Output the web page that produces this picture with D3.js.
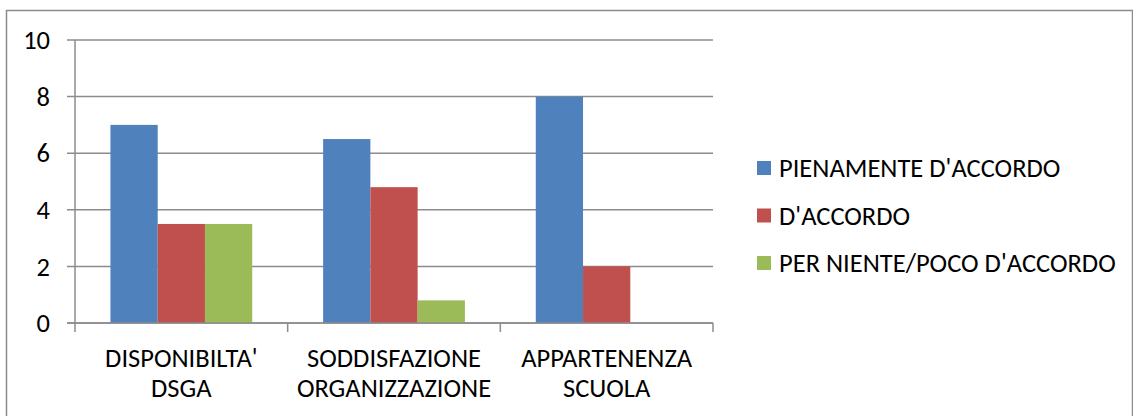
<!DOCTYPE html>
<html>
<head>
<meta charset="utf-8">
<script src="https://cdn.jsdelivr.net/npm/d3@7"></script>
<style>
  body { margin: 0; background: #fff; }
  text { font-family: Carlito, Calibri, "Liberation Sans", sans-serif; fill: #000; }
</style>
</head>
<body>
<div id="chart"></div>
<script>
// data
let categories = [["DISPONIBILTA'", "DSGA"], ["SODDISFAZIONE", "ORGANIZZAZIONE"], ["APPARTENENZA", "SCUOLA"]];
let seriesNames = ["PIENAMENTE D'ACCORDO", "D'ACCORDO", "PER NIENTE/POCO D'ACCORDO"];
let pienamente = [7, 6.5, 8];
let accordo = [3.5, 4.8, 2];
let perNiente = [3.5, 0.8, 0];
let yTicks = [0, 2, 4, 6, 8, 10];
let colors = ["#4F81BD", "#C0504D", "#9BBB59"];

let values = [pienamente, accordo, perNiente];

let W = 1133, H = 416;
let plotLeft = 75, plotRight = 713, plotTop = 40, plotBottom = 323;
let fontSize = "26.5px";

let svg = d3.select("#chart").append("svg")
    .attr("width", W)
    .attr("height", H);

// outer frame
svg.append("rect")
    .attr("x", 6.5).attr("y", 10.5)
    .attr("width", 1126).attr("height", 420)
    .attr("fill", "none")
    .attr("stroke", "#8c8c8c")
    .attr("stroke-width", 1.5);

let y = d3.scaleLinear().domain([0, 10]).range([plotBottom, plotTop]);
let x0 = d3.scaleBand().domain(d3.range(categories.length)).range([plotLeft, plotRight]);
let x1 = d3.scaleBand().domain(d3.range(seriesNames.length))
    .range([x0.bandwidth() / 6, x0.bandwidth() * 5 / 6]);

// gridlines + y ticks
svg.append("g")
    .selectAll("line")
    .data(yTicks)
    .enter().append("line")
    .attr("x1", plotLeft - 8).attr("x2", plotRight)
    .attr("y1", d => y(d)).attr("y2", d => y(d))
    .attr("stroke", "#8c8c8c")
    .attr("stroke-width", 1.5);

svg.append("g")
    .selectAll("text")
    .data(yTicks)
    .enter().append("text")
    .attr("x", 50)
    .attr("y", d => y(d))
    .attr("dy", "0.35em")
    .attr("text-anchor", "end")
    .style("font-size", fontSize)
    .text(d => d);

// bars
let groups = svg.append("g")
    .selectAll("g")
    .data(values)
    .enter().append("g")
    .attr("fill", (d, i) => colors[i]);

groups.each(function (series, s) {
    d3.select(this).selectAll("rect")
        .data(series)
        .enter().append("rect")
        .attr("x", (d, i) => x0(i) + x1(s))
        .attr("width", x1.bandwidth())
        .attr("y", d => y(d))
        .attr("height", d => y(0) - y(d));
});

// axes
svg.append("line")
    .attr("x1", plotLeft).attr("x2", plotLeft)
    .attr("y1", plotTop).attr("y2", plotBottom)
    .attr("stroke", "#8c8c8c").attr("stroke-width", 1.5);

svg.append("line")
    .attr("x1", plotLeft - 8).attr("x2", plotRight)
    .attr("y1", plotBottom).attr("y2", plotBottom)
    .attr("stroke", "#8c8c8c").attr("stroke-width", 1.5);

let catTicks = d3.range(categories.length + 1).map(i => i < categories.length ? x0(i) : plotRight);
svg.append("g")
    .selectAll("line")
    .data(catTicks)
    .enter().append("line")
    .attr("x1", d => d).attr("x2", d => d)
    .attr("y1", plotBottom).attr("y2", plotBottom + 9)
    .attr("stroke", "#8c8c8c").attr("stroke-width", 1.5);

// category labels
let catLabels = svg.append("g")
    .selectAll("text")
    .data(categories)
    .enter().append("text")
    .attr("text-anchor", "middle")
    .style("font-size", fontSize);

catLabels.selectAll("tspan")
    .data((d, i) => d.map(t => ({t: t, i: i})))
    .enter().append("tspan")
    .attr("x", d => x0(d.i) + x0.bandwidth() / 2)
    .attr("y", (d, j) => 367 + j * 30)
    .text(d => d.t);

// legend
let legend = svg.append("g")
    .selectAll("g")
    .data(seriesNames)
    .enter().append("g")
    .attr("transform", (d, i) => "translate(757," + (168 + i * 47.5) + ")");

legend.append("rect")
    .attr("x", 0).attr("y", -7)
    .attr("width", 14).attr("height", 14)
    .attr("fill", (d, i) => colors[i]);

legend.append("text")
    .attr("x", 22)
    .attr("dy", "0.35em")
    .style("font-size", fontSize)
    .text(d => d);
</script>
</body>
</html>
